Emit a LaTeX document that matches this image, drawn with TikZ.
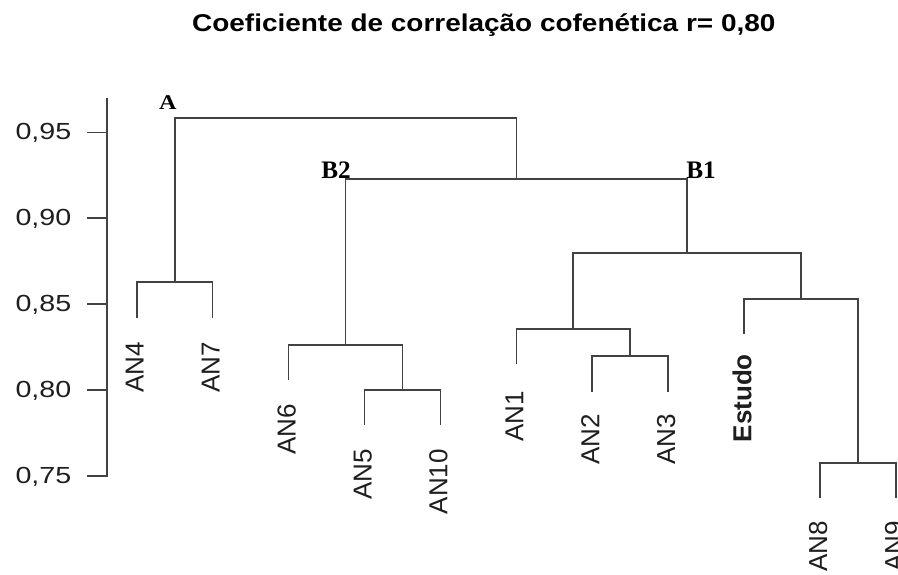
\documentclass[tikz,border=0pt]{standalone}
\usepackage{fontspec}
\usepackage{graphicx}
\setmainfont{Liberation Sans}
\newfontfamily\serifb{Liberation Serif}
\definecolor{ln}{RGB}{66,66,66}
\definecolor{tx}{RGB}{30,30,30}
\begin{document}
\begin{tikzpicture}[x=1pt,y=-1pt,
  dend/.style={draw=ln, line width=1.7pt, line cap=rect},
  ticklab/.style={inner sep=0pt, anchor=base east, text=tx, font=\fontsize{23.3}{28}\selectfont},
  leaflab/.style={inner sep=0pt, anchor=base east, rotate=90, text=tx, font=\fontsize{26}{31}\selectfont},
  grplab/.style={inner sep=0pt, anchor=base west, text=black},
  ]
\useasboundingbox (0,0) rectangle (898,574);
\clip (0,0) rectangle (898,574);

% title
\node[inner sep=0pt, anchor=base west, font=\bfseries\fontsize{24.3}{29}\selectfont] (title) at (192,31.7)
  {\scalebox{1.15}[1]{Coeficiente de correlação cofenética r= 0,80}};

% axis
\coordinate (axtop) at (107,99.3);
\coordinate (axbot) at (107,476);
\draw[dend] (axtop) -- (axbot);
\foreach \v/\y in {75/476,80/390.1,85/304.2,90/218.3,95/132.4}{
  \coordinate (tk\v) at (107,\y);
  \coordinate (tl\v) at (88,\y);
  \draw[dend] (tl\v) -- (tk\v);
  \node[ticklab] (tn\v) at (71.5,\y+7) {\scalebox{1.23}[1]{0,\v}};
}

% leaves (end points of leaf lines)
\coordinate (l4)  at (136.7,316.7);
\coordinate (l7)  at (212.6,316.7);
\coordinate (l6)  at (288.6,379);
\coordinate (l5)  at (364.5,424);
\coordinate (l10) at (440.4,424);
\coordinate (l1)  at (516.4,363.3);
\coordinate (l2)  at (592.3,390.7);
\coordinate (l3)  at (668.2,390.7);
\coordinate (lE)  at (744.1,333.3);
\coordinate (l8)  at (820.1,497.5);
\coordinate (l9)  at (896,497.5);

% merges
\coordinate (m47)  at (174.65,281.7);
\coordinate (m510) at (402.45,390);
\coordinate (m6)   at (345.5,345);
\coordinate (m23)  at (630.25,355.7);
\coordinate (m1)   at (573.3,328.7);
\coordinate (m89)  at (858.05,462.7);
\coordinate (mE)   at (801.1,298.7);
\coordinate (mB1)  at (687.2,253.3);
\coordinate (mB)   at (516.35,179);
\coordinate (mA)   at (345.5,117.7);

\draw[dend] (l4) |- (m47) -| (l7);
\draw[dend] (l5) |- (m510) -| (l10);
\draw[dend] (l6) |- (m6) -| (m510);
\draw[dend] (l2) |- (m23) -| (l3);
\draw[dend] (l1) |- (m1) -| (m23);
\draw[dend] (l8) |- (m89) -| (l9);
\draw[dend] (lE) |- (mE) -| (m89);
\draw[dend] (m1) |- (mB1) -| (mE);
\draw[dend] (m6) |- (mB) -| (mB1);
\draw[dend] (m47) |- (mA) -| (mB);

% leaf labels
\node[leaflab] (tAN4)  at (143.7,341.7) {AN4};
\node[leaflab] (tAN7)  at (219.6,341.7) {AN7};
\node[leaflab] (tAN6)  at (295.6,404) {AN6};
\node[leaflab] (tAN5)  at (371.5,449) {AN5};
\node[leaflab] (tAN10) at (447.4,449) {AN10};
\node[leaflab] (tAN1)  at (523.4,390.7) {AN1};
\node[leaflab] (tAN2)  at (599.3,414) {AN2};
\node[leaflab] (tAN3)  at (675.2,414) {AN3};
\node[leaflab, font=\bfseries\fontsize{26}{31}\selectfont] (tEst) at (751.4,354) {Estudo};
\node[leaflab] (tAN8)  at (827.1,520.7) {AN8};
\node[leaflab] (tAN9)  at (903,520.7) {AN9};

% group labels
\node[grplab, font=\serifb\bfseries\fontsize{21}{25}\selectfont] (gA) at (159,109.5) {\scalebox{1.15}[1]{A}};
\node[grplab, font=\serifb\bfseries\fontsize{25.2}{30}\selectfont] (gB2) at (321.2,178) {B2};
\node[grplab, font=\serifb\bfseries\fontsize{25.2}{30}\selectfont] (gB1) at (686.2,178.3) {B1};
\end{tikzpicture}
\end{document}
